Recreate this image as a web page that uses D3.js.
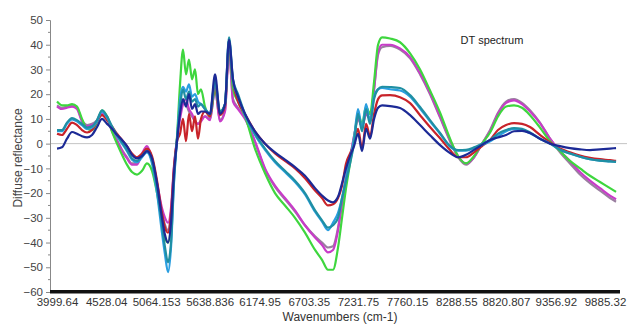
<!DOCTYPE html>
<html>
<head>
<meta charset="utf-8">
<script src="https://cdn.jsdelivr.net/npm/d3@7"></script>
<style>
  body { margin: 0; background: #fff; }
  svg { font-family: "Liberation Sans", Arial, sans-serif; }
</style>
</head>
<body>
<svg id="chart" width="627" height="324"></svg>
<script>
// wavenumbers (cm-1) shared by every spectrum
const wavenumbers = [4000, 4053, 4107, 4161, 4214, 4268, 4322, 4376, 4429, 4483, 4537, 4590, 4644, 4698, 4751, 4805, 4859, 4913, 4966, 5020,
  5074, 5127, 5160, 5192, 5224, 5256, 5289, 5321, 5353, 5385, 5417, 5450, 5482, 5514, 5546, 5589, 5643, 5697, 5750, 5804,
  5847, 5890, 5944, 6019, 6126, 6234, 6341, 6448, 6556, 6663, 6771, 6846, 6910, 6964, 7018, 7061, 7104, 7147, 7190, 7233,
  7276, 7319, 7362, 7405, 7448, 7491, 7577, 7684, 7792, 7899, 8006, 8114, 8221, 8307, 8393, 8479, 8565, 8651, 8736, 8823,
  8908, 8994, 9080, 9187, 9295, 9402, 9509, 9617, 9724, 9832, 9939, 10004];

const plum = [15.5, 14.5, 15, 15.5, 14.5, 9.5, 7.5, 8, 9.5, 12.5, 11, 5.5, 1.5, -2.5, -5.5, -8, -8, -4.5, -2, -6.5,
  -17, -28, -33, -35, -28, -10, 2, 12, 17, 16, 13, 11, 9, 8, 9.5, 11, 10, 22, 9.5, 13.5,
  38, 18, 14.5, 10.5, 0.5, -10.5, -17.5, -22.5, -27.5, -33, -37.5, -40, -42, -41.5, -34, -24, -14, -6, 3, 10,
  7, 12, 10, 22, 36, 39, 39.5, 38, 34.5, 28, 20, 10.5, 1, -5.5, -8.5, -5.5, 0, 5.5, 12.5, 17,
  18, 16.5, 13.5, 8.5, 2, -3.5, -8, -12.5, -16, -19, -22, -23.5];

const magenta = [15, 14, 14.5, 15, 14, 9, 7, 7.5, 9, 12, 10.5, 5, 1, -3, -6, -8.5, -8.5, -4, -1, -6,
  -16, -26, -30, -32, -26, -9, 2, 10, 16, 18, 14, 12, 9, 8, 9, 11, 9.5, 22, 9, 13,
  38, 17, 14, 10, 1, -10, -17, -22, -27, -33, -38, -41, -44, -43, -35, -24, -14, -6, 3, 10,
  7, 12, 10, 22, 37, 40, 40, 38.5, 35, 28.5, 20.5, 11, 1.5, -5, -8, -5.5, 0, 5, 12, 16.5,
  17.5, 16, 13, 8.3, 2, -3, -7, -11.5, -15, -18, -21, -22.5];

const green = [17, 15.5, 15.5, 16, 15, 10, 6, 5.5, 8.5, 13.5, 11, 5, 0, -4.5, -8.5, -11.5, -12.5, -11, -8, -11,
  -20, -32, -38, -40, -33, -12, 3, 24, 38, 28, 34, 26, 30, 20, 22, 15, 11, 22, 13, 16,
  40, 22, 17, 11, -2, -12, -20, -25, -30, -36, -43, -47, -51, -51, -42, -30, -18, -8, 2, 12,
  8, 15, 12, 25, 40, 43, 42.5, 41, 36.5, 30, 21.5, 12.5, 2, -5, -8, -5, 0, 4.5, 11, 15,
  15.5, 14.5, 11.5, 6.5, 1, -3, -7, -10, -13, -15.5, -18, -19.5];

const red = [4, 3.5, 6, 8.5, 7.5, 5.5, 4.5, 5.5, 9, 11.5, 9.5, 7, 4, 1.5, -1, -4, -5.5, -4, -2, -5,
  -15, -28, -34, -36, -28, -10, 1, 4, 10, 1, 12, 5, 11, 2, 10, 13, 11, 24, 11.5, 15,
  40, 25, 17, 12, 5, 0, -4, -7, -10, -14, -19, -22, -25, -24.5, -22, -17, -8, -4, 0, 6,
  -2, 8, 3, 12, 18, 19.5, 19.6, 18.8, 16.4, 11.5, 6.7, 2.2, -2.6, -5.5, -5.5, -3.5, -1, 1.5, 5.5, 7.5,
  8.3, 8, 6.7, 3.5, 0.5, -2, -3.5, -4.8, -5.7, -6.3, -6.7, -7];

const lightBlue = [5, 5, 8, 9.8, 9, 7.5, 6, 6.5, 9, 13, 10.5, 6.5, 3, 0, -3, -6.5, -7.5, -5.5, -3.5, -8,
  -20, -36, -45, -52, -42, -16, 2, 18, 23, 21, 24, 19, 20, 17, 16, 14, 12, 25, 12.5, 16,
  42, 25, 19, 11.5, 3.5, -2.5, -7.5, -11.5, -15.5, -20.5, -27.5, -31.5, -35, -32, -28, -22, -14, -6, 2, 14,
  6, 16, 9, 19, 22, 22.5, 22, 21.5, 19, 14.2, 9, 4, -1.2, -2.8, -2.8, -1.8, -0.5, 1, 3, 5,
  6, 5.5, 4.2, 2, 0, -2.5, -4, -5.3, -6.3, -6.9, -7.2, -7.4];

const teal = [5.5, 5.5, 8.5, 10.3, 9.5, 8, 6.5, 7, 9.5, 13.5, 11, 7, 3.5, 0.5, -2.5, -6, -7, -5, -3, -7,
  -18, -33, -42, -48, -40, -15, 2, 15, 22, 18, 21, 17, 18, 15, 16, 14, 12, 26, 13, 16,
  43, 26, 20, 12, 4, -2, -7, -11, -15, -20, -27, -31, -34, -33, -30, -22, -15, -8, 0, 12,
  5, 14, 8, 18, 22, 23, 22.9, 22.5, 19.6, 14.8, 9.5, 4.3, -1, -2.6, -2.5, -1.5, 0, 1.5, 4, 5.5,
  6.3, 6, 4.5, 2, 0, -2.5, -4, -5.3, -6.3, -6.9, -7.2, -7.4];

const navy = [-2, -1.5, 2, 4.7, 4, 3, 2.5, 3.5, 6.7, 10, 8, 6, 3.5, 1.5, -1, -4.5, -6, -5, -3, -6,
  -16, -30, -37, -40, -32, -12, 1, 12, 18, 15, 20, 14, 16, 12, 13, 13, 12, 28, 12, 16,
  42, 26, 19, 12, 5, 0, -3.5, -6.5, -9.5, -13, -18, -21, -23, -23.7, -21.5, -16, -10, -5, -1, 4,
  -3, 6, 2, 10, 14.5, 15.5, 15.2, 14.4, 11.5, 7.5, 3.4, -0.6, -3.8, -5.5, -4.5, -2.5, -0.5, 1.5, 2.5, 3.5,
  5, 5.2, 4.3, 2, 0, -1, -1.8, -2.3, -2.6, -2.3, -2, -1.8];

const seriesNames = ["plum", "magenta", "green", "red", "lightBlue", "teal", "navy"];
const seriesValues = [plum, magenta, green, red, lightBlue, teal, navy];
const seriesColors = ["#9a7fa0", "#c83cc8", "#3ed63e", "#c8232a", "#2a9ee0", "#1f8fa3", "#1c2a96"];

const xTicks = [3999.64, 4528.04, 5064.153, 5638.836, 6174.95, 6703.35, 7231.75, 7760.15, 8288.55, 8820.807, 9356.92, 9885.32];
const yTicks = [-60, -50, -40, -30, -20, -10, 0, 10, 20, 30, 40, 50];
const yMinor = [-55, -45, -35, -25, -15, -5, 5, 15, 25, 35, 45];

const svg = d3.select("#chart");

const x = d3.scaleLinear().domain([3999.64, 9885.32]).range([57, 605]);
const y = d3.scaleLinear().domain([-60, 50]).range([292, 20]);

// zero line
svg.append("line")
  .attr("x1", 50).attr("x2", 627)
  .attr("y1", y(0)).attr("y2", y(0))
  .attr("stroke", "#c4c4c4").attr("stroke-width", 1);

// y axis
const yAxis = svg.append("g")
  .attr("transform", "translate(50,0)")
  .call(d3.axisLeft(y).tickValues(yTicks).tickSize(4).tickPadding(3));
yAxis.select(".domain").attr("stroke", "#888");
yAxis.selectAll(".tick line").attr("stroke", "#888");
yAxis.selectAll("text").attr("fill", "#444").style("font-size", "11.5px");
yAxis.selectAll(".minor")
  .data(yMinor)
  .enter().append("line")
  .attr("x1", -2).attr("x2", 0)
  .attr("y1", d => y(d)).attr("y2", d => y(d))
  .attr("stroke", "#888");

// spectra
const line = d3.line()
  .x((d, i) => x(wavenumbers[i]))
  .y(d => y(d))
  .curve(d3.curveMonotoneX);

svg.selectAll(".spectrum")
  .data(seriesValues)
  .enter()
  .append("path")
  .attr("class", "spectrum")
  .attr("fill", "none")
  .attr("stroke", (d, i) => seriesColors[i])
  .attr("stroke-width", 2.2)
  .attr("stroke-linejoin", "round")
  .attr("d", line);

// x axis: thick black base line
svg.append("rect")
  .attr("x", 50).attr("y", 290)
  .attr("width", 570).attr("height", 3.5)
  .attr("fill", "#111");

const xAxis = svg.append("g")
  .attr("transform", "translate(0,293)")
  .call(d3.axisBottom(x).tickValues(xTicks).tickSize(0).tickPadding(5).tickFormat(d => d));
xAxis.select(".domain").remove();
xAxis.selectAll("text").attr("fill", "#333").style("font-size", "11.5px");

// titles
svg.append("text")
  .attr("x", 340).attr("y", 321)
  .attr("text-anchor", "middle")
  .attr("fill", "#333")
  .style("font-size", "12px")
  .text("Wavenumbers (cm-1)");

svg.append("text")
  .attr("transform", "translate(22,158) rotate(-90)")
  .attr("text-anchor", "middle")
  .attr("fill", "#444")
  .style("font-size", "12px")
  .text("Diffuse reflectance");

svg.append("text")
  .attr("x", 492).attr("y", 44)
  .attr("text-anchor", "middle")
  .attr("fill", "#222")
  .style("font-size", "11px")
  .text("DT spectrum");
</script>
</body>
</html>
